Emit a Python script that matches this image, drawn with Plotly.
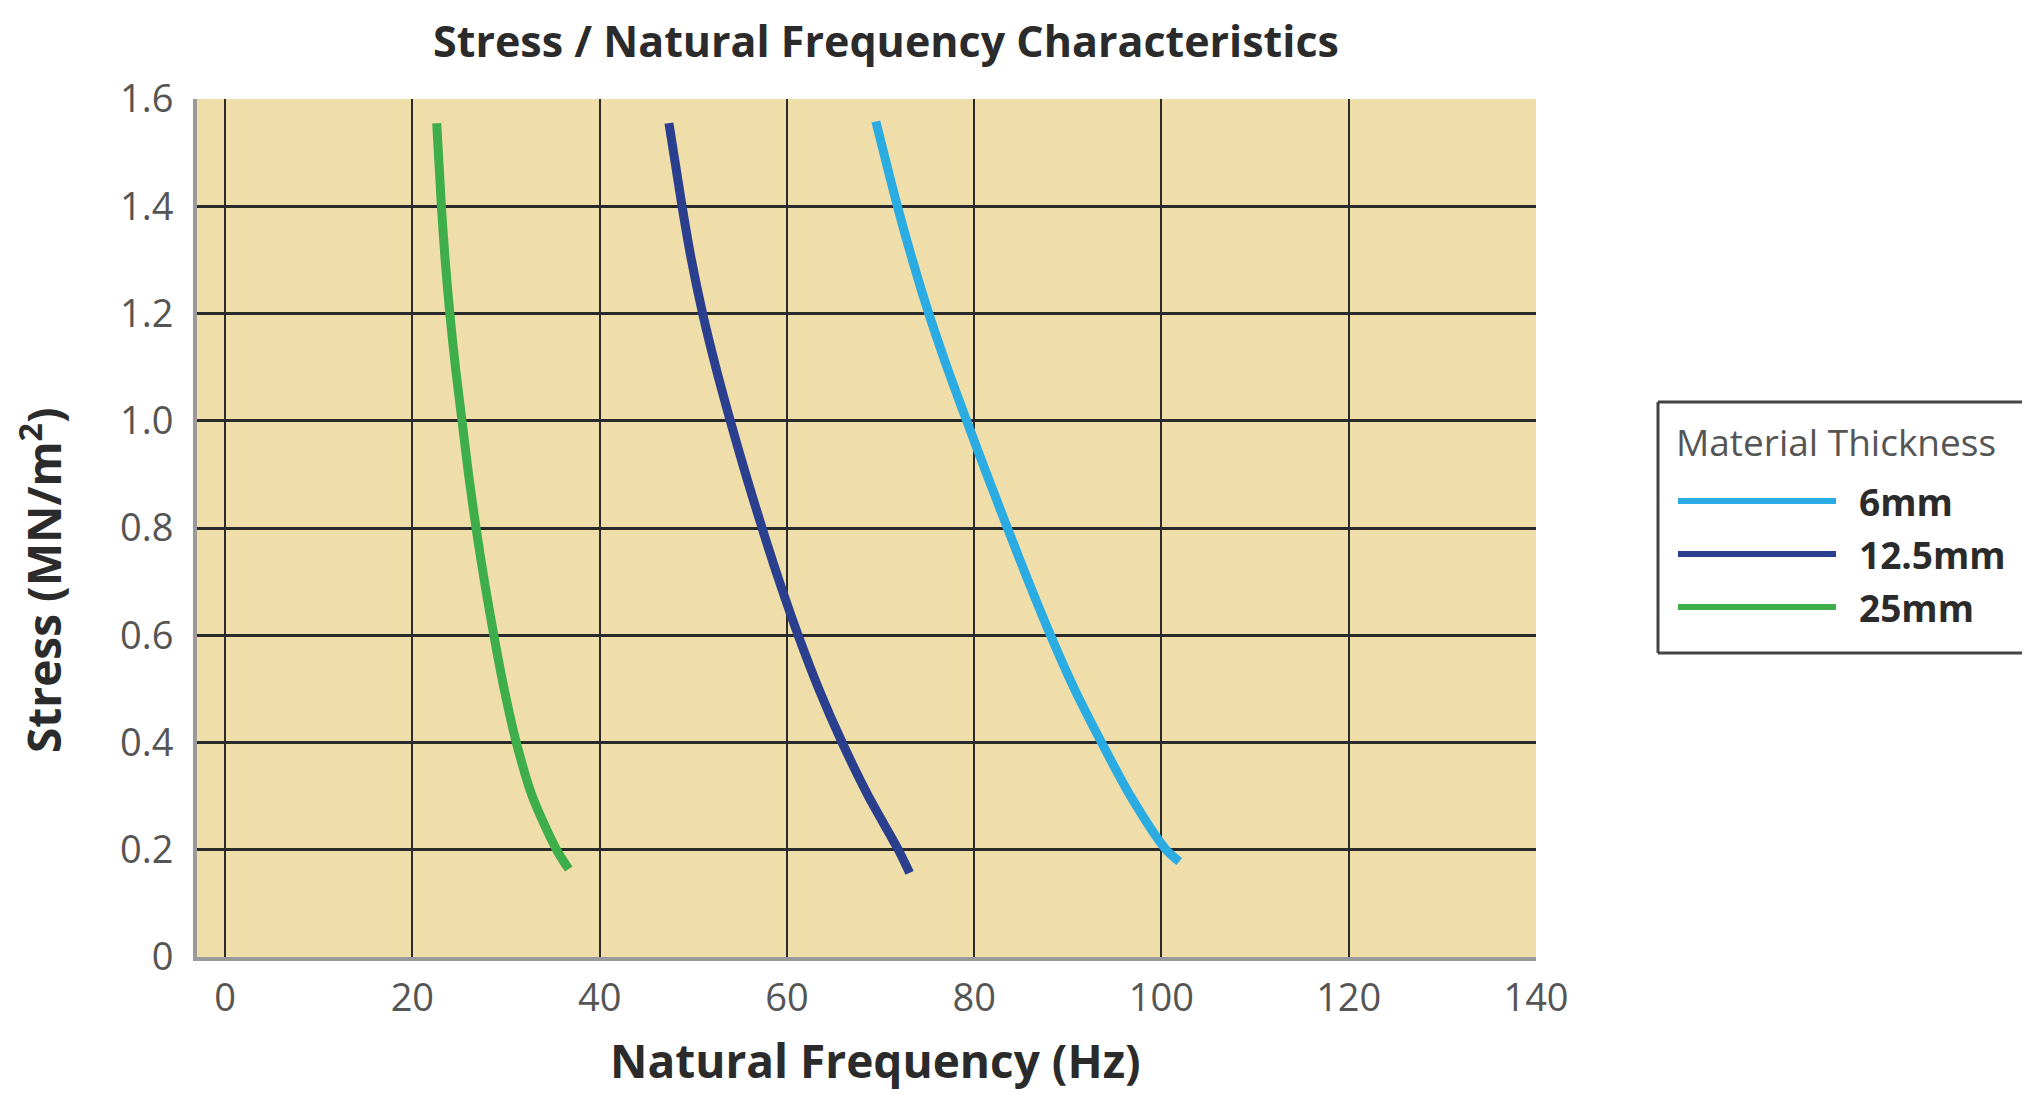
import plotly.graph_objects as go

# ---- data ----
series_names = ["6mm", "12.5mm", "25mm"]

stress_levels = [1.4, 1.3, 1.2, 1.1, 1.0, 0.9, 0.8, 0.7, 0.6, 0.5, 0.4, 0.3, 0.2]

freq_6mm = [69.5, 71.8, 73.4, 75.15, 77.1, 79.2, 81.35, 83.55, 85.8, 88.15, 90.7, 93.6, 96.7, 100.5, 101.9]
stress_6mm = [1.558] + stress_levels + [0.178]

freq_12mm = [47.4, 48.8, 49.8, 51.0, 52.4, 53.95, 55.6, 57.35, 59.2, 61.2, 63.4, 65.9, 68.7, 71.9, 73.1]
stress_12mm = [1.555] + stress_levels + [0.157]

freq_25mm = [22.6, 23.1, 23.5, 24.0, 24.6, 25.3, 26.0, 26.8, 27.7, 28.7, 29.8, 31.1, 32.8, 35.4, 36.7]
stress_25mm = [1.555] + stress_levels + [0.164]

x_ticks = [0, 20, 40, 60, 80, 100, 120, 140]
y_ticks = [0, 0.2, 0.4, 0.6, 0.8, 1.0, 1.2, 1.4, 1.6]
y_tick_labels = ["0", "0.2", "0.4", "0.6", "0.8", "1.0", "1.2", "1.4", "1.6"]

colors = ["#2AACE2", "#2A3F8E", "#3DAE49"]
legend_title = "Material Thickness"
x_title = "Natural Frequency (Hz)"
y_title = "Stress (MN/m<sup>2</sup>)"
chart_title = "Stress / Natural Frequency Characteristics"

FONT = "Open Sans"
W, H = 2030, 1095
ML, MR, MT, MB = 189, 502, 91, 146
PW, PH = W - ML - MR, H - MT - MB


def px(xp):
    return (xp - ML) / PW


def py(yp):
    return (H - MB - yp) / PH


fig = go.Figure()
for name, xs, ys, c in zip(series_names,
                           [freq_6mm, freq_12mm, freq_25mm],
                           [stress_6mm, stress_12mm, stress_25mm],
                           colors):
    fig.add_trace(go.Scatter(
        x=xs, y=ys, mode="lines", name=name, showlegend=False,
        line=dict(color=c, width=9, shape="spline", smoothing=0.8),
    ))

# ---- boxed key (its right side runs off the page edge, as in the reference) ----
BOX_L, BOX_T, BOX_B, BOX_R = 1650, 394, 645, 2200
shapes = [
    dict(type="rect", xref="paper", yref="paper",
         x0=px(BOX_L), x1=px(BOX_R), y0=py(BOX_B), y1=py(BOX_T),
         line=dict(width=0), fillcolor="white", layer="above"),
    dict(type="line", xref="paper", yref="paper",
         x0=px(BOX_L), x1=px(BOX_R), y0=py(BOX_T), y1=py(BOX_T),
         line=dict(color="#444444", width=3), layer="above"),
    dict(type="line", xref="paper", yref="paper",
         x0=px(BOX_L), x1=px(BOX_R), y0=py(BOX_B), y1=py(BOX_B),
         line=dict(color="#444444", width=3), layer="above"),
    dict(type="line", xref="paper", yref="paper",
         x0=px(BOX_L), x1=px(BOX_L), y0=py(BOX_B), y1=py(BOX_T),
         line=dict(color="#444444", width=3), layer="above"),
]
annotations = [dict(text=legend_title, xref="paper", yref="paper",
                    x=px(1666), y=py(434), xanchor="left", yanchor="middle",
                    showarrow=False, font=dict(family=FONT, size=37, color="#555555"))]
for i, (name, c) in enumerate(zip(series_names, colors)):
    yy = 493 + i * 53
    shapes.append(dict(type="line", xref="paper", yref="paper",
                       x0=px(1670), x1=px(1828), y0=py(yy), y1=py(yy),
                       line=dict(color=c, width=6), layer="above"))
    annotations.append(dict(text="<b>%s</b>" % name, xref="paper", yref="paper",
                            x=px(1849), y=py(yy), xanchor="left", yanchor="middle",
                            showarrow=False,
                            font=dict(family=FONT, size=37, color="#2b2b2b")))

# axis titles placed where the reference has them
annotations.append(dict(text="<b>%s</b>" % y_title, xref="paper", yref="paper",
                        x=px(33), y=py(572), xanchor="center", yanchor="middle",
                        textangle=-90, showarrow=False,
                        font=dict(family=FONT, size=46, color="#2b2b2b")))
annotations.append(dict(text="<b>%s</b>" % x_title, xref="paper", yref="paper",
                        x=px(867), y=py(1052), xanchor="center", yanchor="middle",
                        showarrow=False,
                        font=dict(family=FONT, size=46, color="#2b2b2b")))

fig.update_layout(
    width=W, height=H,
    margin=dict(l=ML, r=MR, t=MT, b=MB),
    paper_bgcolor="white",
    plot_bgcolor="#EFDDAA",
    showlegend=False,
    shapes=shapes,
    annotations=annotations,
    title=dict(
        text="<b>%s</b>" % chart_title,
        x=878 / W, xanchor="center",
        y=1 - 34 / H, yanchor="middle",
        font=dict(family=FONT, size=43, color="#2b2b2b"),
    ),
    xaxis=dict(
        range=[-3, 140],
        tickvals=x_ticks,
        tickfont=dict(family=FONT, size=38, color="#555555"),
        showgrid=True, gridcolor="#2a2a2a", gridwidth=2,
        zeroline=False,
        showline=True, linecolor="#9a9a9a", linewidth=4,
        ticks="", ticklabelstandoff=4,
    ),
    yaxis=dict(
        range=[0, 1.6],
        tickvals=y_ticks, ticktext=y_tick_labels,
        tickfont=dict(family=FONT, size=38, color="#555555"),
        showgrid=True, gridcolor="#2a2a2a", gridwidth=3,
        zeroline=False,
        showline=True, linecolor="#9a9a9a", linewidth=4,
        ticks="", ticklabelstandoff=12,
    ),
)

fig.write_html("out.html")
